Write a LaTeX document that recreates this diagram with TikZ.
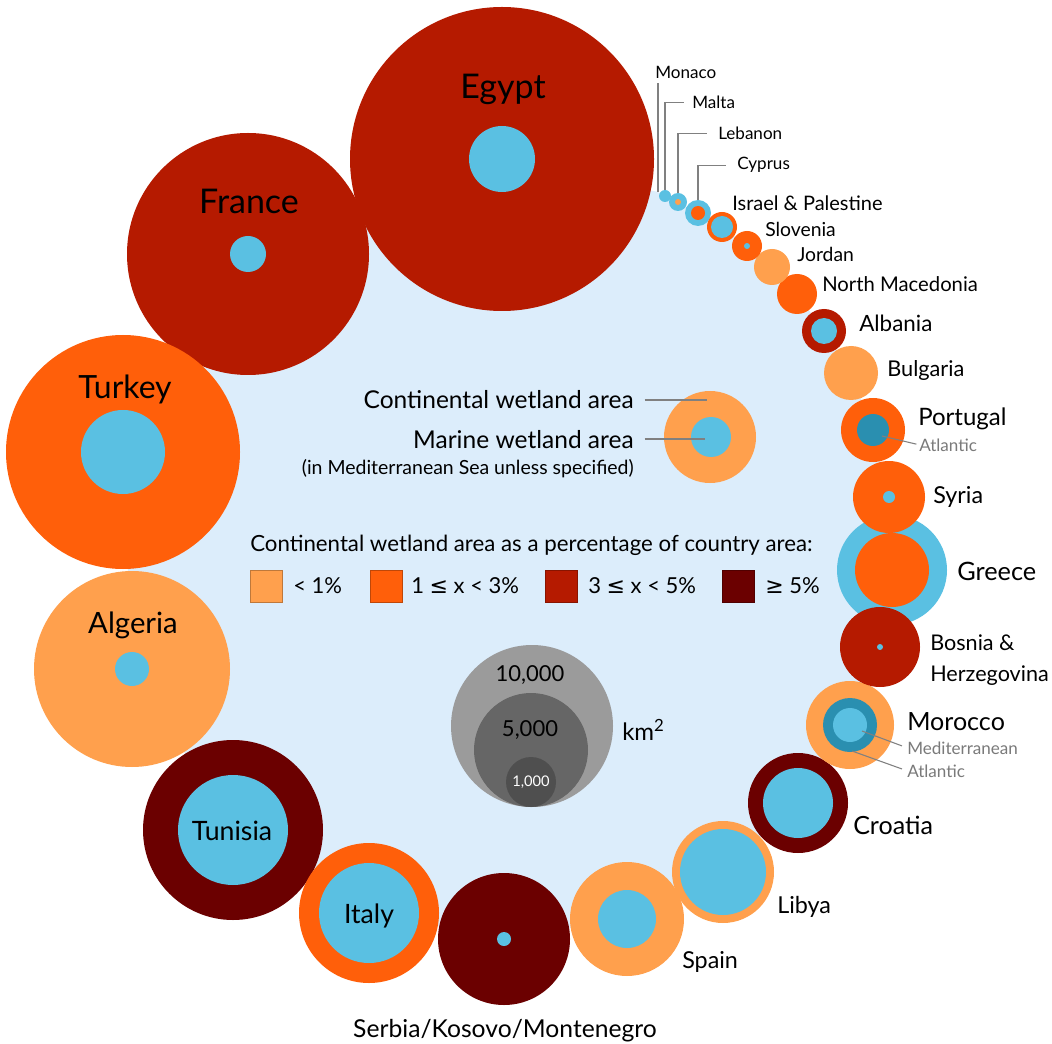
\documentclass[tikz,border=0pt]{standalone}
\usepackage{fontspec}
\setmainfont{Lato}
\newfontfamily\symf{DejaVu Sans}
\definecolor{cA}{HTML}{FFA04D}
\definecolor{cB}{HTML}{FF5F0A}
\definecolor{cC}{HTML}{B51A00}
\definecolor{cD}{HTML}{6B0000}
\definecolor{mar}{HTML}{5AC0E2}
\definecolor{atl}{HTML}{2A8FB0}
\definecolor{bgb}{HTML}{DCEDFB}
\definecolor{leadc}{HTML}{808080}
\definecolor{subc}{HTML}{7A7A7A}
\definecolor{gA}{HTML}{9B9B9B}
\definecolor{gB}{HTML}{666666}
\definecolor{gC}{HTML}{4F4F4F}
\newcommand{\fz}[1]{\fontsize{#1}{#1}\selectfont}
\begin{document}
\begin{tikzpicture}[x=0.75pt,y=-0.75pt,
  leadline/.style={draw=leadc, line width=0.8pt},
  lbl/.style={anchor=base west, inner sep=0pt, text=black},
  bigl/.style={lbl, anchor=base, font=\fz{24}},
  medl/.style={lbl, font=\fz{17.5}},
  mcl/.style={lbl, anchor=base, font=\fz{20}},
  smll/.style={lbl, font=\fz{14.5}},
  tnyl/.style={lbl, font=\fz{12.8}},
  subl/.style={lbl, font=\fz{12.8}, text=subc},
  sq/.style={line width=0.6pt}]
\useasboundingbox (0,0) rectangle (1052,1044);
\fill[white] (0,0) rectangle (1052,1044);
% centres
\coordinate (egypt) at (502,159);
\coordinate (monaco) at (658,192);
\coordinate (malta) at (665,196);
\coordinate (lebanon) at (678,202);
\coordinate (cyprus) at (698,213);
\coordinate (israel) at (722,227);
\coordinate (slovenia) at (747,246);
\coordinate (jordan) at (772,267);
\coordinate (nmac) at (797,294);
\coordinate (albania) at (824,331);
\coordinate (bulgaria) at (851,373);
\coordinate (portugal) at (873,430);
\coordinate (syria) at (889,497);
\coordinate (greece) at (892,570);
\coordinate (bosnia) at (880,647);
\coordinate (morocco) at (850,725);
\coordinate (croatia) at (798,803);
\coordinate (libya) at (723,872);
\coordinate (spain) at (627,919);
\coordinate (serbia) at (504,939);
\coordinate (italy) at (369,913);
\coordinate (tunisia) at (233,830);
\coordinate (algeria) at (132,669);
\coordinate (turkey) at (123,452);
\coordinate (france) at (248,254);
% sea
\fill[bgb] (egypt) -- (monaco) -- (malta) -- (lebanon) -- (cyprus) -- (israel) -- (slovenia) -- (jordan) -- (nmac) -- (albania) -- (bulgaria) -- (portugal) -- (syria) -- (greece) -- (bosnia) -- (morocco) -- (croatia) -- (libya) -- (spain) -- (serbia) -- (italy) -- (tunisia) -- (algeria) -- (turkey) -- (france) -- cycle;
% small-country labels and leaders
\node[tnyl] (monacoL) at (655,79) {Monaco};
\node[tnyl] (maltaL) at (692,109) {Malta};
\node[tnyl] (lebanonL) at (718,140) {Lebanon};
\node[tnyl] (cyprusL) at (737,170) {Cyprus};
\draw[leadline] (monaco) -- ([yshift=-3pt]monaco |- monacoL.south);
\draw[leadline, shorten >=6pt] (malta) |- (maltaL.west);
\draw[leadline, shorten >=8pt] (lebanon) |- (lebanonL.west);
\draw[leadline, shorten >=8pt] (cyprus) |- (cyprusL.west);
% marine circles larger than continental ones
\fill[mar] (greece) circle[radius=55];
\fill[mar] (cyprus) circle[radius=13];
\fill[mar] (lebanon) circle[radius=9];
\fill[mar] (malta) circle[radius=6];
% continental circles
\fill[cC] (egypt) circle[radius=152];
\fill[cC] (france) circle[radius=121];
\fill[cB] (turkey) circle[radius=117];
\fill[cA] (algeria) circle[radius=98];
\fill[cD] (tunisia) circle[radius=90];
\fill[cB] (italy) circle[radius=70];
\fill[cD] (serbia) circle[radius=66];
\fill[cA] (spain) circle[radius=57];
\fill[cA] (libya) circle[radius=51];
\fill[cD] (croatia) circle[radius=50];
\fill[cA] (morocco) circle[radius=44];
\fill[cC] (bosnia) circle[radius=40];
\fill[cB] (greece) circle[radius=37];
\fill[cB] (syria) circle[radius=36];
\fill[cB] (portugal) circle[radius=32];
\fill[cA] (bulgaria) circle[radius=27];
\fill[cC] (albania) circle[radius=22];
\fill[cB] (nmac) circle[radius=20];
\fill[cA] (jordan) circle[radius=18];
\fill[cB] (slovenia) circle[radius=15];
\fill[cB] (israel) circle[radius=15];
\fill[cB] (cyprus) circle[radius=7];
\fill[cA] (lebanon) circle[radius=3];
% marine circles inside
\fill[mar] (egypt) circle[radius=33];
\fill[mar] (france) circle[radius=18];
\fill[mar] (turkey) circle[radius=42];
\fill[mar] (algeria) circle[radius=17];
\fill[mar] (tunisia) circle[radius=55];
\fill[mar] (italy) circle[radius=50];
\fill[mar] (serbia) circle[radius=7];
\fill[mar] (spain) circle[radius=29];
\fill[mar] (libya) circle[radius=43];
\fill[mar] (croatia) circle[radius=35];
\fill[atl] (morocco) circle[radius=27];
\fill[mar] (morocco) circle[radius=17];
\fill[mar] (bosnia) circle[radius=3];
\fill[mar] (syria) circle[radius=6];
\fill[atl] (portugal) circle[radius=16];
\fill[mar] (albania) circle[radius=13];
\fill[mar] (slovenia) circle[radius=3];
\fill[mar] (israel) circle[radius=11];
% country labels
\node[bigl, font=\fz{25.5}] (egyptL) at (503,99) {Egypt};
\node[bigl, font=\fz{25.5}] (franceL) at (249,214) {France};
\node[bigl] (turkeyL) at (125,399) {Turkey};
\node[mcl, font=\fz{22}] (algeriaL) at (133,633) {Algeria};
\node[mcl] (tunisiaL) at (232,840) {Tunisia};
\node[mcl] (italyL) at (369,923) {Italy};
\node[medl, anchor=base, font=\fz{18.5}] (serbiaL) at (505,1037) {Serbia/Kosovo/Montenegro};
\node[medl] (spainL) at (682,968) {Spain};
\node[medl] (libyaL) at (777,913) {Libya};
\node[medl, font=\fz{18.8}] (croatiaL) at (853,834) {Croatia};
\node[medl, font=\fz{18.8}] (moroccoL) at (907,730) {Morocco};
\node[subl] (moroccoM) at (907,754) {Mediterranean};
\node[subl] (moroccoA) at (907,777) {Atlantic};
\node[medl, font=\fz{16.2}] (bosniaL) at (930,650) {Bosnia \&};
\node[medl, font=\fz{16.2}] (bosniaL2) at (930,681) {Herzegovina};
\node[medl, font=\fz{19}] (greeceL) at (957,580) {Greece};
\node[medl] (syriaL) at (933,503) {Syria};
\node[medl, font=\fz{18}] (portugalL) at (918,426) {Portugal};
\node[subl] (portugalA) at (919,451) {Atlantic};
\node[smll, font=\fz{16.3}] (bulgariaL) at (887,377) {Bulgaria};
\node[smll, font=\fz{16.8}] (albaniaL) at (859,332) {Albania};
\node[smll, font=\fz{15.2}] (nmacL) at (822,292) {North Macedonia};
\node[smll] (jordanL) at (797,262) {Jordan};
\node[smll] (sloveniaL) at (765,237) {Slovenia};
\node[smll, font=\fz{15}] (israelL) at (732,211) {Israel \& Palestine};
% sub-label leaders
\coordinate (portA) at (882,436);
\coordinate (morM) at (862,731);
\coordinate (morA) at (852,751);
\draw[leadline, shorten >=2pt] (portA) -- (portugalA.west);
\draw[leadline, shorten >=4pt] (morM) -- (moroccoM.west);
\draw[leadline, shorten >=4pt] (morA) -- (moroccoA.west);
% legend: circle
\coordinate (legc) at (710,437);
\fill[cA] (legc) circle[radius=46];
\fill[mar] (711,437) circle[radius=20];
\node[lbl, anchor=base east, font=\fz{18.4}] (contL) at (634,408) {Continental wetland area};
\node[lbl, anchor=base east, font=\fz{18.4}] (marL) at (634,448) {Marine wetland area};
\node[lbl, anchor=base east, font=\fz{14.6}] (seaL) at (634,474) {(in Mediterranean Sea unless specified)};
\coordinate (contP) at (707,400);
\coordinate (marP) at (705,439);
\draw[leadline, shorten <=8pt] (contL.east |- contP) -- (contP);
\draw[leadline, shorten <=8pt] (marL.east |- marP) -- (marP);
% legend: classes
\node[lbl, font=\fz{16.7}] (hdr) at (250,551) {Continental wetland area as a percentage of country area:};
\draw[sq, fill=cA, draw=cA!75!black] (250,570) rectangle (282,602);
\draw[sq, fill=cB, draw=cB!75!black] (370,570) rectangle (402,602);
\draw[sq, fill=cC, draw=cC!75!black] (545,570) rectangle (577,602);
\draw[sq, fill=cD, draw=cD!75!black] (722,570) rectangle (754,602);
\node[lbl, font=\fz{16.5}] (k1) at (293,593) {< 1\%};
\node[lbl, font=\fz{16.5}] (k2) at (411,593) {1 {\symf ≤} x < 3\%};
\node[lbl, font=\fz{16.5}] (k3) at (588,593) {3 {\symf ≤} x < 5\%};
\node[lbl, font=\fz{16.5}] (k4) at (765,593) {{\symf ≥} 5\%};
% legend: scale
\fill[gA] (532,726) circle[radius=81];
\fill[gB] (531,750) circle[radius=57];
\fill[gC] (531,782) circle[radius=25];
\node[inner sep=0pt, font=\fz{16.5}] (s1) at (530,675) {10,000};
\node[inner sep=0pt, font=\fz{16.5}] (s2) at (530,730) {5,000};
\node[inner sep=0pt, font=\fz{11}, text=white] (s3) at (531,782) {1,000};
\node[lbl, anchor=west, font=\fz{18}] (km) at (622,730) {km\textsuperscript{2}};
\end{tikzpicture}
\end{document}
